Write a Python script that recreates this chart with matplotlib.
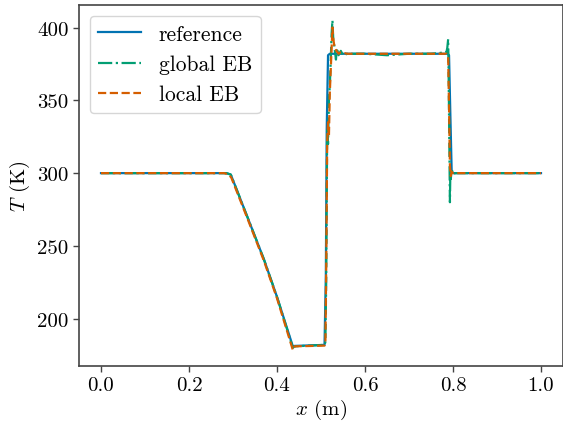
import matplotlib
matplotlib.use("Agg")
import matplotlib.pyplot as plt

plt.rcParams['font.family'] = 'serif'
plt.rcParams['font.serif'] = ['cmr10']
plt.rcParams['mathtext.fontset'] = 'cm'
plt.rcParams['axes.formatter.use_mathtext'] = True

# reference solution
x_ref = [0.0, 0.285, 0.295, 0.33, 0.37, 0.40, 0.436, 0.44, 0.508, 0.511, 0.513, 0.516,
         0.52, 0.6, 0.788, 0.791, 0.794, 0.797, 0.8, 1.0]
T_ref = [300, 300, 299, 272, 241, 215, 181, 181.3, 182, 230, 330, 381,
         382, 382, 382, 381, 340, 301, 300, 300]

# global energy balance
x_glob = [0.0, 0.285, 0.295, 0.33, 0.37, 0.40, 0.436, 0.44, 0.508, 0.510, 0.512, 0.514,
          0.516, 0.518, 0.520, 0.522, 0.524, 0.526, 0.528, 0.530, 0.532, 0.534, 0.536,
          0.540, 0.545, 0.550, 0.56, 0.60, 0.65, 0.70, 0.75, 0.785, 0.787, 0.789,
          0.790, 0.791, 0.792, 0.793, 0.794, 0.795, 0.797, 0.800, 0.805, 1.0]
T_glob = [300, 300, 299, 272, 241, 215, 180, 181, 182, 184, 230, 330,
          320, 350, 360, 376, 395, 405, 391, 388, 383, 378, 386,
          381, 384, 381, 382, 382, 381, 382, 382, 383, 386, 392,
          370, 340, 310, 280, 302, 296, 303, 299, 300, 300]

# local energy balance
x_loc = [0.0, 0.28, 0.29, 0.296, 0.33, 0.37, 0.40, 0.436, 0.44, 0.508, 0.510, 0.512,
         0.514, 0.516, 0.518, 0.520, 0.522, 0.524, 0.526, 0.528, 0.530, 0.535, 0.540,
         0.545, 0.56, 0.60, 0.70, 0.785, 0.789, 0.791, 0.793, 0.795, 0.797, 0.80, 1.0]
T_loc = [300, 300, 299, 297, 271, 240, 214, 178.5, 181, 181.5, 183, 240,
         320, 335, 325, 355, 370, 385, 400, 392, 388, 384, 382,
         383, 382, 382, 382, 382, 380, 345, 305, 298, 301, 300, 300]

fig = plt.figure(figsize=(5.63, 4.27), dpi=100)
ax = fig.add_axes([79 / 563, 60 / 427, 484 / 563, 361 / 427])

ax.plot(x_ref, T_ref, color='#0173B2', lw=1.6, label='reference')
ax.plot(x_glob, T_glob, color='#029E73', lw=1.6, ls='-.', label='global EB')
ax.plot(x_loc, T_loc, color='#D55E00', lw=1.6, ls='--', label='local EB')

ax.set_xlim(-0.05, 1.05)
ax.set_ylim(167.5, 415.5)
ax.set_xticks([0.0, 0.2, 0.4, 0.6, 0.8, 1.0])
ax.set_yticks([200, 250, 300, 350, 400])
ax.set_xticklabels(['0.0', '0.2', '0.4', '0.6', '0.8', '1.0'])
ax.set_yticklabels(['200', '250', '300', '350', '400'])
ax.tick_params(labelsize=15, length=4, width=1, color='#444444')
for s in ax.spines.values():
    s.set_color('#444444')
    s.set_linewidth(1.2)

ax.set_xlabel('$x$ (m)', fontsize=15, labelpad=2)
ax.set_ylabel('$T$ (K)', fontsize=15, labelpad=4)

ax.legend(loc='upper left', fontsize=15.5, fancybox=True, framealpha=0.8,
          edgecolor='#cccccc', handlelength=2.0)

fig.savefig('out.png', dpi=100)
